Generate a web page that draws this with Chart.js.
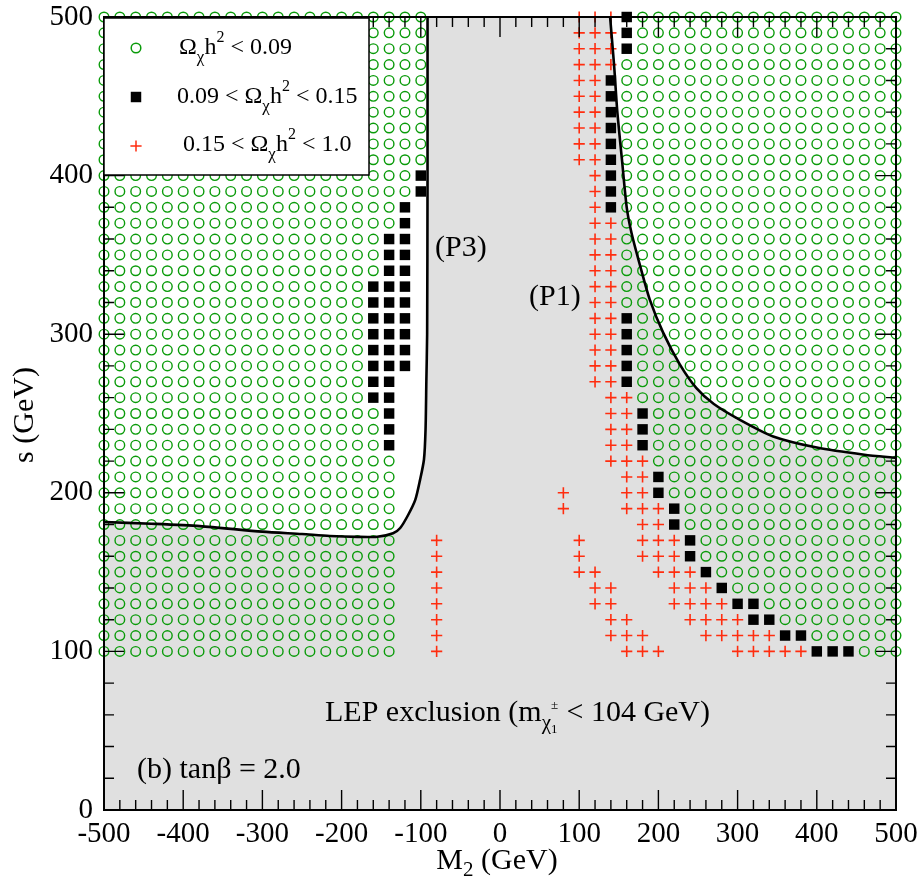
<!DOCTYPE html>
<html>
<head>
<meta charset="utf-8">
<script src="https://cdn.jsdelivr.net/npm/chart.js@4.4.0/dist/chart.umd.min.js"></script>
<style>
  html, body { margin: 0; padding: 0; background: #fff; }
</style>
</head>
<body>
<canvas id="relic" width="924" height="888"></canvas>
<script>
// scan grid in the (M2, s) plane
const m2Values = [-500, -480, -460, -440, -420, -400, -380, -360, -340, -320,
                  -300, -280, -260, -240, -220, -200, -180, -160, -140, -120,
                  -100, -80, -60, -40, -20, 0, 20, 40, 60, 80,
                  100, 120, 140, 160, 180, 200, 220, 240, 260, 280,
                  300, 320, 340, 360, 380, 400, 420, 440, 460, 480, 500];
const sValues = [500, 490, 480, 470, 460, 450, 440, 430, 420, 410,
                 400, 390, 380, 370, 360, 350, 340, 330, 320, 310,
                 300, 290, 280, 270, 260, 250, 240, 230, 220, 210,
                 200, 190, 180, 170, 160, 150, 140, 130, 120, 110, 100];

// one row per s value, one column per M2 value (spaces only group columns by ten)
// o : Omega h^2 < 0.09   # : 0.09 - 0.15   + : 0.15 - 1.0   . : nothing
const scanRows = [
  "oooooooooo oooooooooo o......... +++#oooooo oooooooooo o", // 500
  "oooooooooo oooooooooo o......... +++#oooooo oooooooooo o", // 490
  "oooooooooo oooooooooo o......... +++#oooooo oooooooooo o", // 480
  "oooooooooo oooooooooo o......... +++ooooooo oooooooooo o", // 470
  "oooooooooo oooooooooo o......... ++#ooooooo oooooooooo o", // 460
  "oooooooooo oooooooooo o......... ++#ooooooo oooooooooo o", // 450
  "oooooooooo oooooooooo o......... ++#ooooooo oooooooooo o", // 440
  "oooooooooo oooooooooo o......... ++#ooooooo oooooooooo o", // 430
  "oooooooooo oooooooooo o......... ++#ooooooo oooooooooo o", // 420
  "oooooooooo oooooooooo o......... ++#ooooooo oooooooooo o", // 410
  "oooooooooo oooooooooo #......... .+#ooooooo oooooooooo o", // 400
  "oooooooooo oooooooooo #......... .+#ooooooo oooooooooo o", // 390
  "oooooooooo ooooooooo# .......... .+#ooooooo oooooooooo o", // 380
  "oooooooooo ooooooooo# .......... .++ooooooo oooooooooo o", // 370
  "oooooooooo oooooooo## .......... .++ooooooo oooooooooo o", // 360
  "oooooooooo oooooooo## .......... .++ooooooo oooooooooo o", // 350
  "oooooooooo oooooooo## .......... .++ooooooo oooooooooo o", // 340
  "oooooooooo ooooooo### .......... .++ooooooo oooooooooo o", // 330
  "oooooooooo ooooooo### .......... .++ooooooo oooooooooo o", // 320
  "oooooooooo ooooooo### .......... .++#oooooo oooooooooo o", // 310
  "oooooooooo ooooooo### .......... .++#oooooo oooooooooo o", // 300
  "oooooooooo ooooooo### .......... .++#oooooo oooooooooo o", // 290
  "oooooooooo ooooooo### .......... .++#oooooo oooooooooo o", // 280
  "oooooooooo ooooooo##. .......... .++#oooooo oooooooooo o", // 270
  "oooooooooo ooooooo##. .......... ..++oooooo oooooooooo o", // 260
  "oooooooooo oooooooo#. .......... ..++#ooooo oooooooooo o", // 250
  "oooooooooo oooooooo#. .......... ..++#ooooo oooooooooo o", // 240
  "oooooooooo oooooooo#. .......... ..++#ooooo oooooooooo o", // 230
  "oooooooooo ooooooooo. .......... ..+++ooooo oooooooooo o", // 220
  "oooooooooo ooooooooo. .......... ...++#oooo oooooooooo o", // 210
  "oooooooooo ooooooooo. .........+ ...++#oooo oooooooooo o", // 200
  "oooooooooo ooooooooo. .........+ ...+++#ooo oooooooooo o", // 190
  "oooooooooo ooooooooo. .......... ....++#ooo oooooooooo o", // 180
  "oooooooooo ooooooooo. .+........ +...+++#oo oooooooooo o", // 170
  "oooooooooo ooooooooo. .+........ +...+++#oo oooooooooo o", // 160
  "oooooooooo ooooooooo. .+........ ++...+++#o oooooooooo o", // 150
  "oooooooooo ooooooooo. .+........ .++...+++# oooooooooo o", // 140
  "oooooooooo ooooooooo. .+........ .++...++++ ##oooooooo o", // 130
  "oooooooooo ooooooooo. .+........ ..++...+++ +##ooooooo o", // 120
  "oooooooooo ooooooooo. .+........ ..+++...++ +++##ooooo o", // 110
  "oooooooooo ooooooooo. .+........ ...+++.... +++++###oo o"  // 100
];

// boundary of the (P3) region, M2 in GeV vs s in GeV
const p3Boundary = [
  [-500, 181.6], [-440, 180.5], [-379, 179], [-300, 175.5], [-250, 174],
  [-215, 172.8], [-180, 172.2], [-155, 172.3], [-135, 174.5], [-126, 177.8],
  [-116, 186], [-107, 195.5], [-101, 208], [-96, 221], [-94, 240],
  [-93, 270], [-92, 300], [-91.5, 400], [-91.5, 500]
];
// boundary of the (P1) region
const p1Boundary = [
  [139, 500], [144, 470], [148, 441], [154, 410], [160, 380], [166, 364],
  [177, 343], [189, 322], [206, 301], [227, 281], [248, 266], [270, 256],
  [303, 246], [345, 235.5], [400, 228.5], [460, 224], [500, 222]
];

const xTicks = [-500, -400, -300, -200, -100, 0, 100, 200, 300, 400, 500];
const yTicks = [0, 100, 200, 300, 400, 500];
const minorStep = 20;

const legendLabels = ['\u03A9\u03C7h\u00B2 < 0.09', '0.09 < \u03A9\u03C7h\u00B2 < 0.15', '0.15 < \u03A9\u03C7h\u00B2 < 1.0'];

const FONT = '"Liberation Serif", "Times New Roman", serif';
const GREEN = 'rgb(10,155,10)';
const RED = 'rgb(255,45,15)';
const SHADE = 'rgb(224,224,224)';

const lowPts = [], midPts = [], highPts = [];
scanRows.forEach((row, r) => {
  const cells = row.replace(/ /g, '');
  for (let c = 0; c < cells.length; c++) {
    const pt = { x: m2Values[c], y: sValues[r] };
    if (cells[c] === 'o') lowPts.push(pt);
    else if (cells[c] === '#') midPts.push(pt);
    else if (cells[c] === '+') highPts.push(pt);
  }
});

const toXY = arr => arr.map(([x, y]) => ({ x, y }));

const markerStyles = [
  { pointStyle: 'circle', radius: 4.8, borderWidth: 1.4, fill: 'rgba(0,0,0,0)', stroke: GREEN },
  { pointStyle: 'rect', radius: 7.4, borderWidth: 0, fill: '#000', stroke: '#000' },
  { pointStyle: 'cross', radius: 5.6, borderWidth: 1.6, fill: RED, stroke: RED }
];

// text with sub/superscripts: [text, size, baseline shift]
function drawParts(ctx, x, y, parts) {
  let cx = x;
  parts.forEach(([text, size, dy]) => {
    ctx.font = size + 'px ' + FONT;
    ctx.fillText(text, cx, y + dy);
    cx += ctx.measureText(text).width;
  });
  return cx;
}
function partsWidth(ctx, parts) {
  let w = 0;
  parts.forEach(([text, size]) => {
    ctx.font = size + 'px ' + FONT;
    w += ctx.measureText(text).width;
  });
  return w;
}

const shadePlugin = {
  id: 'shade',
  beforeDraw(chart) {
    const { ctx, chartArea: a } = chart;
    ctx.save();
    ctx.fillStyle = SHADE;
    ctx.fillRect(a.left, a.top, a.width, a.height);
    ctx.restore();
  }
};

const decorPlugin = {
  id: 'decor',
  afterDraw(chart) {
    const { ctx, chartArea: a, scales: { x, y } } = chart;
    ctx.save();

    // inward ticks on all four sides
    ctx.strokeStyle = '#000';
    ctx.lineWidth = 1.4;
    ctx.beginPath();
    for (let v = x.min; v <= x.max; v += minorStep) {
      const px = x.getPixelForValue(v);
      const len = xTicks.includes(v) ? 20 : 10;
      ctx.moveTo(px, a.bottom); ctx.lineTo(px, a.bottom - len);
      ctx.moveTo(px, a.top); ctx.lineTo(px, a.top + len);
    }
    for (let v = y.min; v <= y.max; v += minorStep) {
      const py = y.getPixelForValue(v);
      const len = yTicks.includes(v) ? 20 : 10;
      ctx.moveTo(a.left, py); ctx.lineTo(a.left + len, py);
      ctx.moveTo(a.right, py); ctx.lineTo(a.right - len, py);
    }
    ctx.stroke();
    ctx.lineWidth = 2;
    ctx.strokeRect(a.left, a.top, a.width, a.height);

    // legend box
    const bx = a.left, by = a.top + 1, bw = 265, bh = 157;
    ctx.fillStyle = '#fff';
    ctx.fillRect(bx, by, bw, bh);
    ctx.lineWidth = 1.5;
    ctx.strokeRect(bx, by, bw, bh);

    const rows = [
      { my: 48, tx: 179, ty: 54, parts: [['\u03A9', 24, 0], ['\u03C7', 17, 8], ['h', 24, 0], ['2', 16, -12], [' < 0.09', 24, 0]] },
      { my: 97, tx: 177, ty: 103, parts: [['0.09 < \u03A9', 24, 0], ['\u03C7', 17, 8], ['h', 24, 0], ['2', 16, -12], [' < 0.15', 24, 0]] },
      { my: 146, tx: 183, ty: 151, parts: [['0.15 < \u03A9', 24, 0], ['\u03C7', 17, 8], ['h', 24, 0], ['2', 16, -12], [' < 1.0', 24, 0]] }
    ];
    rows.forEach((row, i) => {
      const m = markerStyles[i];
      ctx.fillStyle = m.fill;
      ctx.strokeStyle = m.stroke;
      Chart.helpers.drawPoint(ctx, { pointStyle: m.pointStyle, radius: m.radius, borderWidth: m.borderWidth, rotation: 0 }, bx + 32, row.my);
      ctx.fillStyle = '#000';
      ctx.textBaseline = 'alphabetic';
      ctx.textAlign = 'left';
      drawParts(ctx, row.tx, row.ty, row.parts);
    });

    // region labels
    ctx.fillStyle = '#000';
    ctx.font = '30px ' + FONT;
    ctx.fillText('(P3)', 435, 256);
    ctx.fillText('(P1)', 529, 305);
    ctx.fillText('(b) tan\u03B2 = 2.0', 137, 778);

    let cx = drawParts(ctx, 325, 721, [['LEP exclusion (m', 30, 0], ['\u03C7', 21, 8]]);
    ctx.font = '13px ' + FONT;
    ctx.fillText('\u00B1', cx, 709);
    ctx.fillText('1', cx, 733);
    drawParts(ctx, cx + 8, 721, [[' < 104 GeV)', 30, 0]]);

    // axis titles
    const xTitle = [['M', 30, 0], ['2', 21, 7], [' (GeV)', 30, 0]];
    drawParts(ctx, 497 - partsWidth(ctx, xTitle) / 2, 869, xTitle);
    ctx.translate(33, 415);
    ctx.rotate(-Math.PI / 2);
    ctx.font = '30px ' + FONT;
    ctx.textAlign = 'center';
    ctx.fillText('s (GeV)', 0, 0);
    ctx.restore();
  }
};

new Chart(document.getElementById('relic'), {
  type: 'scatter',
  data: {
    datasets: [
      {
        type: 'line', label: 'P3', data: toXY(p3Boundary),
        borderColor: '#000', borderWidth: 2.6, backgroundColor: '#fff',
        fill: 'end', pointRadius: 0, tension: 0.25, order: 0
      },
      {
        type: 'line', label: 'P1', data: toXY(p1Boundary),
        borderColor: '#000', borderWidth: 2.6, backgroundColor: '#fff',
        fill: 'end', pointRadius: 0, tension: 0.25, order: 0
      },
      {
        label: legendLabels[0], data: lowPts, pointStyle: 'circle', pointRadius: 4.8,
        pointBorderWidth: 1.4, pointBorderColor: GREEN, pointBackgroundColor: 'rgba(0,0,0,0)',
        clip: false, order: 3
      },
      {
        label: legendLabels[1], data: midPts, pointStyle: 'rect', pointRadius: 7.4,
        pointBorderWidth: 0, pointBackgroundColor: '#000', pointBorderColor: '#000',
        clip: false, order: 2
      },
      {
        label: legendLabels[2], data: highPts, pointStyle: 'cross', pointRadius: 5.6,
        pointBorderWidth: 1.6, pointBorderColor: RED, pointBackgroundColor: RED,
        clip: false, order: 1
      }
    ]
  },
  options: {
    responsive: false,
    animation: false,
    devicePixelRatio: 1,
    layout: { padding: { top: 17, right: 28, left: 0, bottom: 0 } },
    plugins: {
      legend: { display: false },
      tooltip: { enabled: false },
      filler: { drawTime: 'beforeDatasetsDraw' }
    },
    scales: {
      x: {
        type: 'linear', min: -500, max: 500,
        afterBuildTicks: scale => { scale.ticks = xTicks.map(v => ({ value: v })); },
        afterFit: scale => { scale.height = 78; scale.paddingLeft = 0; scale.paddingRight = 0; },
        ticks: { color: '#000', font: { family: FONT, size: 29 }, padding: 7, maxRotation: 0, autoSkip: false, callback: v => String(v) },
        grid: { display: false, drawTicks: false },
        border: { display: false }
      },
      y: {
        type: 'linear', min: 0, max: 500,
        afterBuildTicks: scale => { scale.ticks = yTicks.map(v => ({ value: v })); },
        afterFit: scale => { scale.width = 104; scale.paddingTop = 0; scale.paddingBottom = 0; },
        ticks: { color: '#000', font: { family: FONT, size: 29 }, padding: 11, autoSkip: false, callback: v => String(v) },
        grid: { display: false, drawTicks: false },
        border: { display: false }
      }
    }
  },
  plugins: [shadePlugin, decorPlugin]
});
</script>
</body>
</html>
